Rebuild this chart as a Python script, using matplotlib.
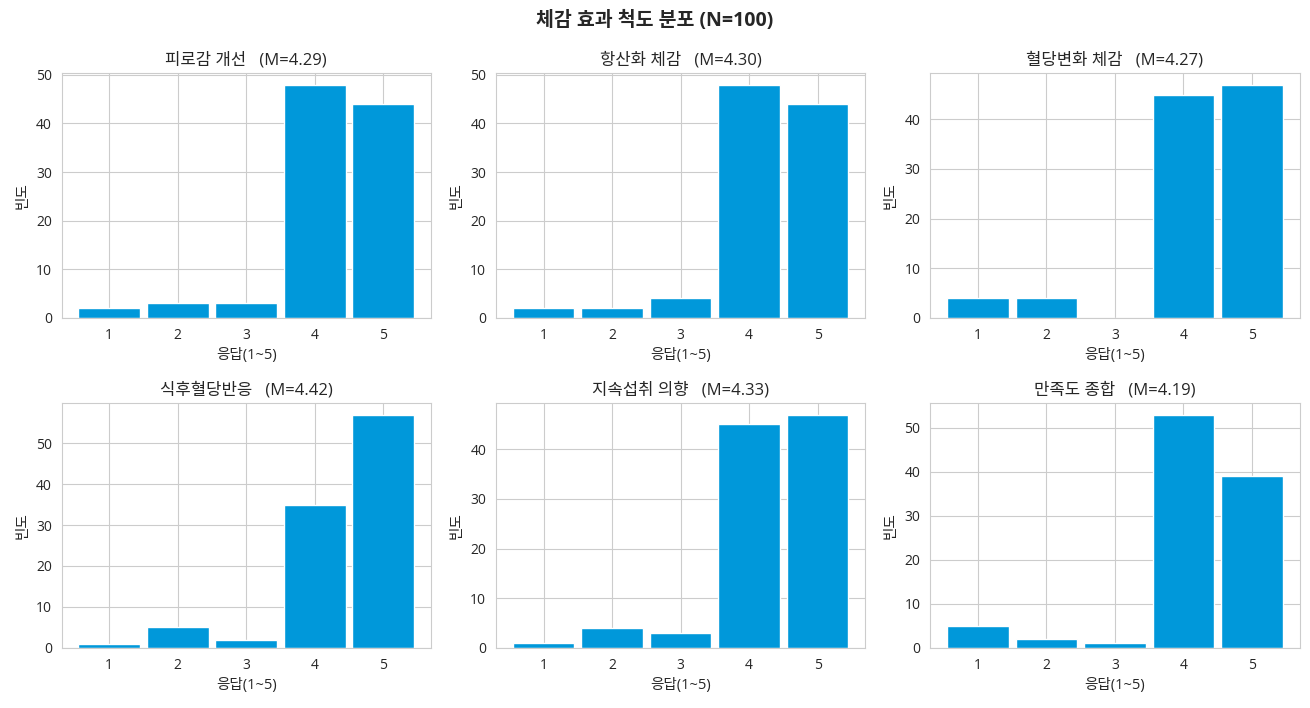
import matplotlib
matplotlib.use("Agg")
import matplotlib.pyplot as plt
import seaborn as sns

sns.set_style("whitegrid")
plt.rcParams['font.family'] = ['Open Sans', 'Noto Sans CJK KR', 'DejaVu Sans']

scores = [1, 2, 3, 4, 5]
items = ['피로감 개선', '항산화 체감', '혈당변화 체감',
         '식후혈당반응', '지속섭취 의향', '만족도 종합']
fatigue = [2, 3, 3, 48, 44]
antiox = [2, 2, 4, 48, 44]
glucose_change = [4, 4, 0, 45, 47]
postmeal = [1, 5, 2, 35, 57]
intention = [1, 4, 3, 45, 47]
satisfaction = [5, 2, 1, 53, 39]
counts = [fatigue, antiox, glucose_change, postmeal, intention, satisfaction]

fig, axes = plt.subplots(2, 3, figsize=(13.1, 7.08), dpi=100)
fig.subplots_adjust(left=0.047, right=0.992, top=0.897, bottom=0.085,
                    wspace=0.176, hspace=0.347)

for ax, name, c in zip(axes.flat, items, counts):
    mean = sum(s * n for s, n in zip(scores, c)) / sum(c)
    ax.bar(scores, c, width=0.9, color='#0098DA', edgecolor='white', linewidth=1)
    ax.set_title(f'{name}   (M={mean:.2f})', fontsize=12)
    ax.set_xlabel('응답(1~5)', fontsize=10.5)
    ax.set_ylabel('빈도', fontsize=10.5)
    ax.set_xticks(scores)
    ax.tick_params(labelsize=10)
    for s in ax.spines.values():
        s.set_color('#cccccc')

fig.suptitle('체감 효과 척도 분포 (N=100)', fontsize=14, fontweight='bold', y=0.985)
fig.savefig('out.png')
